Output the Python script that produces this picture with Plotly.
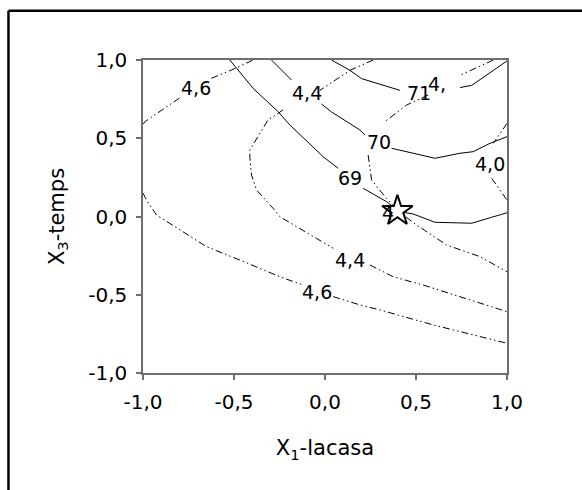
import plotly.graph_objects as go

N = None
# ---- data: contour polylines (data units) ----
yield69_x = [-0.523, -0.395, -0.258, -0.193, -0.010, 0.072, N,
             0.210, 0.338, 0.406, 0.485, 0.604, 0.806, 1.0]
yield69_y = [1.0, 0.819, 0.670, 0.585, 0.382, 0.308, N,
             0.180, 0.095, 0.031, 0.016, -0.037, -0.043, 0.024]

yield70_x = [-0.294, -0.184, N, -0.019, 0.036, 0.192, 0.219, N,
             0.366, 0.604, 0.742, 0.813, 0.907, 1.0]
yield70_y = [1.0, 0.872, N, 0.719, 0.668, 0.553, 0.521, N,
             0.436, 0.372, 0.404, 0.414, 0.468, 0.510]

yield71_x = [0.036, 0.137, 0.201, 0.412, N, 0.742, 0.806, 1.0]
yield71_y = [1.0, 0.934, 0.881, 0.806, N, 0.824, 0.838, 0.994]

ratio40_x = [1.0, 0.925, N, 0.916, 1.0]
ratio40_y = [0.595, 0.468, N, 0.244, 0.105]

ratio42_x = [0.925, 0.742, N, 0.567, 0.448, 0.329, N,
             0.237, 0.256, 0.329, 0.406, 0.503, 0.668, 0.852, 1.0]
ratio42_y = [1.0, 0.902, N, 0.776, 0.712, 0.606, N,
             0.393, 0.233, 0.127, 0.031, -0.054, -0.182, -0.257, -0.353]

ratio44_x = [0.265, 0.137, -0.028, N,
             -0.230, -0.313, -0.413, -0.413, -0.404, -0.376, -0.285, -0.248,
             -0.156, -0.019, 0.045, N,
             0.247, 0.375, 0.540, 0.742, 1.0]
ratio44_y = [1.0, 0.934, 0.806, N,
             0.681, 0.617, 0.425, 0.382, 0.265, 0.169, 0.052, -0.001,
             -0.065, -0.161, -0.203, N,
             -0.310, -0.385, -0.438, -0.512, -0.608]

ratio46a_x = [-1.0, -0.985, -0.789, N, -0.624, -0.514, -0.395]
ratio46a_y = [0.59, 0.61, 0.765, N, 0.883, 0.936, 1.0]

ratio46b_x = [-1.0, -0.981, -0.926, -0.651, -0.468, -0.248, -0.120, N,
              0.045, 0.192, 0.302, 0.595, 1.0]
ratio46b_y = [0.15, 0.105, 0.010, -0.193, -0.278, -0.385, -0.438, N,
              -0.512, -0.565, -0.597, -0.693, -0.810]

label_text = ["4,6", "4,4", "69", "70", "71", "4,", "4,0", "4,4", "4,6", "4"]
label_x = [-0.710, -0.101, 0.137, 0.296, 0.516, 0.615, 0.906, 0.136, -0.042, 0.346]
label_y = [0.821, 0.789, 0.246, 0.473, 0.789, 0.847, 0.335, -0.275, -0.482, 0.022]

star_x = [0.398]
star_y = [0.035]

tick_vals = [-1.0, -0.5, 0.0, 0.5, 1.0]
tick_text = ["-1,0", "-0,5", "0,0", "0,5", "1,0"]

FONT = "DejaVu Sans"
DASH = "7px,3px,1.5px,3px,1.5px,3px"

fig = go.Figure()
solid = [(yield69_x, yield69_y), (yield70_x, yield70_y), (yield71_x, yield71_y)]
dashed = [(ratio40_x, ratio40_y), (ratio42_x, ratio42_y), (ratio44_x, ratio44_y),
          (ratio46a_x, ratio46a_y), (ratio46b_x, ratio46b_y)]
for xs, ys in solid:
    fig.add_trace(go.Scatter(x=xs, y=ys, mode="lines", connectgaps=False,
                             line=dict(color="black", width=1), hoverinfo="skip"))
for xs, ys in dashed:
    fig.add_trace(go.Scatter(x=xs, y=ys, mode="lines", connectgaps=False,
                             line=dict(color="black", width=1, dash=DASH), hoverinfo="skip"))

fig.add_trace(go.Scatter(x=star_x, y=star_y, mode="markers",
                         marker=dict(symbol="star", size=23, color="white",
                                     line=dict(color="black", width=2)),
                         hoverinfo="skip"))

for t, x, y in zip(label_text, label_x, label_y):
    fig.add_annotation(x=x, y=y, text=t, showarrow=False,
                       font=dict(family=FONT, size=19, color="black"))

# outer frame (left and top edges visible)
fig.add_shape(type="line", xref="paper", yref="paper", x0=-0.3696, x1=1.3,
              y0=1.1572, y1=1.1572, line=dict(color="black", width=2.5))
fig.add_shape(type="line", xref="paper", yref="paper", x0=-0.3696, x1=-0.3696,
              y0=1.1572, y1=-0.5, line=dict(color="black", width=2.5))

axis_common = dict(range=[-1, 1], tickvals=tick_vals, ticktext=tick_text,
                   showgrid=False, zeroline=False, showline=True, mirror=True,
                   linecolor="#6e6e6e", linewidth=1.5, ticks="outside", ticklen=5,
                   tickcolor="#6e6e6e", tickwidth=1.5,
                   tickfont=dict(family=FONT, size=20, color="black"))
fig.update_xaxes(**axis_common, ticklabelstandoff=5,
                 title=dict(text="X<sub>1</sub>-lacasa", standoff=28,
                            font=dict(family=FONT, size=21, color="black")))
fig.update_yaxes(**axis_common, ticklabelstandoff=5,
                 title=dict(text="X<sub>3</sub>-temps", standoff=18,
                            font=dict(family=FONT, size=21, color="black")))

fig.update_layout(width=582, height=490, showlegend=False,
                  margin=dict(l=143, r=75, t=60, b=117, pad=0),
                  plot_bgcolor="white", paper_bgcolor="white")

fig.write_html("out.html")
